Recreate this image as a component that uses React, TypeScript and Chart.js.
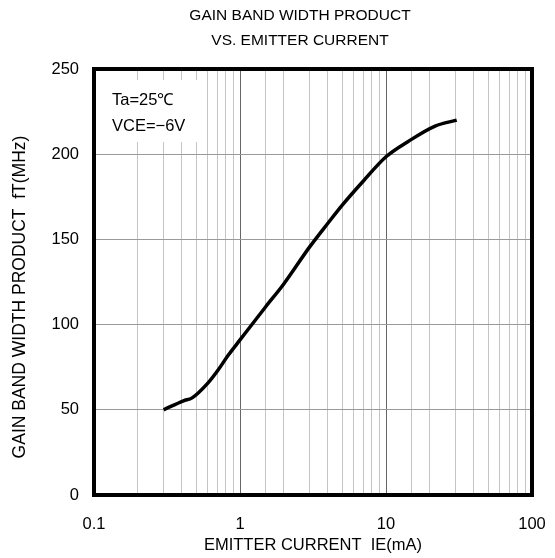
import React, { useEffect, useRef } from "react";
import { Chart, registerables } from "chart.js";

Chart.register(...registerables);

const titleLines = ["GAIN BAND WIDTH PRODUCT", "VS. EMITTER CURRENT"];
const xTitle = "EMITTER CURRENT  IE(mA)";
const yTitle = "GAIN BAND WIDTH PRODUCT  fT(MHz)";
const noteLines = ["Ta=25℃", "VCE=−6V"];

const currentMA = [0.3, 0.41, 0.47, 0.6, 0.71, 0.83, 1.0, 1.5, 2.0, 3.0, 4.0, 5.0, 7.0, 10.0, 14.2, 21.7, 30.5];
const ftMHz = [50, 55.3, 57, 65.5, 73.5, 82, 91, 110.5, 124, 145.6, 159.5, 170, 184.3, 198.5, 207.5, 216.5, 220];

const xMin = 0.1;
const xMax = 100;
const yMin = 0;
const yMax = 250;
const yStep = 50;

const FONT = "'Liberation Sans', Arial, sans-serif";

const isDecade = (v: number) => {
  const l = Math.log10(v);
  return Math.abs(l - Math.round(l)) < 1e-6;
};

const framePlugin = {
  id: "frameAndNote",
  beforeDatasetsDraw(chart: any) {
    const { ctx, chartArea } = chart;
    ctx.save();
    ctx.fillStyle = "#ffffff";
    ctx.fillRect(chartArea.left + 3, 80, 109, 62);
    ctx.fillStyle = "#000";
    ctx.font = `16.5px ${FONT}`;
    ctx.textBaseline = "middle";
    ctx.textAlign = "left";
    ctx.fillText(noteLines[0], 112, 100);
    ctx.fillText(noteLines[1], 112, 126);
    ctx.restore();
  },
  afterDraw(chart: any) {
    const { ctx, chartArea } = chart;
    ctx.save();
    ctx.strokeStyle = "#000";
    ctx.lineWidth = 4;
    ctx.strokeRect(chartArea.left, chartArea.top, chartArea.right - chartArea.left, chartArea.bottom - chartArea.top);
    ctx.fillStyle = "#000";
    ctx.font = `15.5px ${FONT}`;
    ctx.textAlign = "center";
    ctx.textBaseline = "middle";
    ctx.fillText(titleLines[0], 300, 16);
    ctx.fillText(titleLines[1], 300, 41);
    ctx.translate(20, 297);
    ctx.rotate(-Math.PI / 2);
    ctx.font = `17.5px ${FONT}`;
    ctx.fillText(yTitle, 0, 0);
    ctx.restore();
  },
};

export default function App() {
  const ref = useRef<HTMLCanvasElement>(null);
  useEffect(() => {
    if (!ref.current) return;
    const chart = new Chart(ref.current, {
      type: "line",
      data: {
        datasets: [
          {
            data: currentMA.map((x, i) => ({ x, y: ftMHz[i] })),
            borderColor: "#000",
            borderWidth: 3.5,
            pointRadius: 0,
            cubicInterpolationMode: "monotone",
            fill: false,
          },
        ],
      },
      options: {
        animation: false,
        responsive: false,
        layout: { padding: { left: 0, right: 23, top: 69, bottom: 0 } },
        plugins: {
          legend: { display: false },
          tooltip: { enabled: false },
          title: { display: false },
        },
        scales: {
          x: {
            type: "logarithmic",
            min: xMin,
            max: xMax,
            afterFit: (s: any) => {
              s.height = 63;
              s.paddingLeft = 0;
              s.paddingRight = 0;
            },
            border: { display: false },
            grid: {
              drawTicks: false,
              color: (c: any) => (c.tick && isDecade(c.tick.value) ? "#666666" : "#c4c4c4"),
              lineWidth: 1,
            },
            ticks: {
              autoSkip: false,
              maxRotation: 0,
              padding: 20,
              color: "#000",
              font: { family: FONT, size: 16.5 },
              callback: (v: any) => {
                const n = Number(v);
                if (!isDecade(n)) return "";
                return n < 1 ? "0.1" : String(Math.round(n));
              },
            },
            title: {
              display: true,
              text: xTitle,
              color: "#000",
              font: { family: FONT, size: 16.5 },
              padding: { top: 2, bottom: 3 },
            },
          },
          y: {
            type: "linear",
            min: yMin,
            max: yMax,
            afterFit: (s: any) => {
              s.width = 94;
              s.paddingTop = 0;
              s.paddingBottom = 0;
            },
            border: { display: false },
            grid: { drawTicks: false, color: "#9a9a9a", lineWidth: 1 },
            ticks: {
              stepSize: yStep,
              padding: 15,
              color: "#000",
              font: { family: FONT, size: 16.5 },
            },
            title: { display: false },
          },
        },
      },
      plugins: [framePlugin],
    } as any);
    return () => chart.destroy();
  }, []);
  return (
    <div style={{ position: "absolute", left: 0, top: 0, width: 555, height: 558, background: "#fff" }}>
      <canvas ref={ref} width={555} height={558} />
    </div>
  );
}
